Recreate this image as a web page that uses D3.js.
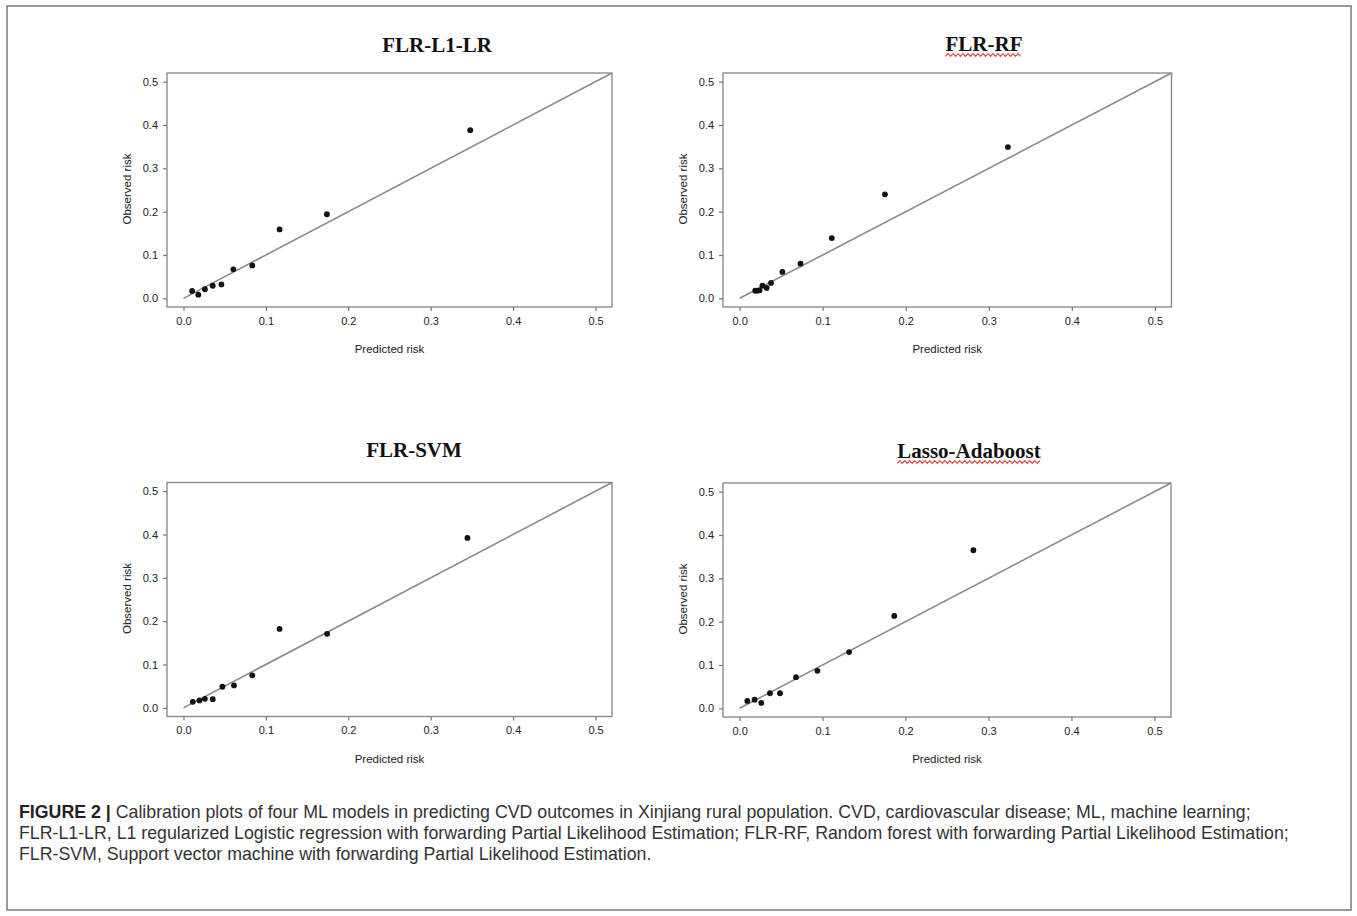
<!DOCTYPE html>
<html>
<head>
<meta charset="utf-8">
<script src="https://cdn.jsdelivr.net/npm/d3@7"></script>
<style>
  body { margin: 0; background: #fff; }
  svg { display: block; }
</style>
</head>
<body>
<div id="chart"></div>
<script>
// calibration plot data
var titles = ["FLR-L1-LR", "FLR-RF", "FLR-SVM", "Lasso-Adaboost"];

var predL1LR = [0.0105, 0.018, 0.026, 0.0355, 0.046, 0.0605, 0.0835, 0.1166, 0.174, 0.348];
var obsL1LR  = [0.017, 0.0085, 0.021, 0.029, 0.032, 0.067, 0.076, 0.159, 0.194, 0.388];

var predRF = [0.0188, 0.0215, 0.024, 0.0274, 0.0326, 0.0378, 0.0515, 0.0733, 0.111, 0.175, 0.323];
var obsRF  = [0.0175, 0.0178, 0.0185, 0.029, 0.024, 0.0355, 0.061, 0.080, 0.139, 0.240, 0.349];

var predSVM = [0.0113, 0.0194, 0.026, 0.0355, 0.0472, 0.0613, 0.0835, 0.1166, 0.1743, 0.3446];
var obsSVM  = [0.0139, 0.017, 0.0209, 0.020, 0.0487, 0.0518, 0.075, 0.182, 0.1708, 0.392];

var predAda = [0.0093, 0.0181, 0.0262, 0.0366, 0.0487, 0.068, 0.0938, 0.132, 0.1864, 0.2818];
var obsAda  = [0.017, 0.020, 0.0124, 0.0348, 0.0348, 0.0719, 0.0866, 0.1298, 0.2133, 0.3648];

var tickValues = [0, 0.1, 0.2, 0.3, 0.4, 0.5];
var axisDomain = [-0.02, 0.52];

var captionLines = [
  ["FIGURE 2 |", " Calibration plots of four ML models in predicting CVD outcomes in Xinjiang rural population. CVD, cardiovascular disease; ML, machine learning;"],
  ["", "FLR-L1-LR, L1 regularized Logistic regression with forwarding Partial Likelihood Estimation; FLR-RF, Random forest with forwarding Partial Likelihood Estimation;"],
  ["", "FLR-SVM, Support vector machine with forwarding Partial Likelihood Estimation."]
];

var series = [
  {pred: predL1LR, obs: obsL1LR},
  {pred: predRF, obs: obsRF},
  {pred: predSVM, obs: obsSVM},
  {pred: predAda, obs: obsAda}
];

// panel boxes in page pixels
var boxes = [
  {left: 167, right: 612, top: 73, bottom: 307, titleX: 437, titleY: 52, wavy: false},
  {left: 723, right: 1171.5, top: 73, bottom: 307, titleX: 984, titleY: 51, wavy: true},
  {left: 167, right: 612, top: 482.5, bottom: 716.5, titleX: 414, titleY: 457, wavy: false},
  {left: 723, right: 1171, top: 483, bottom: 717, titleX: 969, titleY: 458, wavy: true}
];

var svgWidth = 1357, svgHeight = 916;

var svg = d3.select("#chart").append("svg")
  .attr("width", svgWidth)
  .attr("height", svgHeight);

// outer frame
svg.append("rect")
  .attr("x", 7).attr("y", 6)
  .attr("width", 1344).attr("height", 904)
  .attr("fill", "none")
  .attr("stroke", "#7a7a7a")
  .attr("stroke-width", 1.5);

var fmt = d3.format(".1f");

boxes.forEach(function(b, i) {
  var x = d3.scaleLinear().domain(axisDomain).range([b.left, b.right]);
  var y = d3.scaleLinear().domain(axisDomain).range([b.bottom, b.top]);
  var g = svg.append("g");

  // plot box
  g.append("rect")
    .attr("x", b.left).attr("y", b.top)
    .attr("width", b.right - b.left).attr("height", b.bottom - b.top)
    .attr("fill", "none")
    .attr("stroke", "#858585")
    .attr("stroke-width", 1.3);

  var bottomAxis = d3.axisBottom(x).tickValues(tickValues).tickFormat(fmt).tickSize(4).tickPadding(6);
  var leftAxis = d3.axisLeft(y).tickValues(tickValues).tickFormat(fmt).tickSize(4).tickPadding(5);

  var xa = g.append("g").attr("transform", "translate(0," + b.bottom + ")").call(bottomAxis);
  var ya = g.append("g").attr("transform", "translate(" + b.left + ",0)").call(leftAxis);
  [xa, ya].forEach(function(a) {
    a.select(".domain").remove();
    a.selectAll("line").attr("stroke", "#777").attr("stroke-width", 1.2);
    a.selectAll("text")
      .attr("fill", "#222")
      .style("font-family", "Liberation Sans, Arial, sans-serif")
      .style("font-size", "11px");
  });

  // diagonal reference line
  g.append("line")
    .attr("x1", x(0)).attr("y1", y(0))
    .attr("x2", x(0.52)).attr("y2", y(0.52))
    .attr("stroke", "#8a8a8a")
    .attr("stroke-width", 1.6);

  var s = series[i];
  g.selectAll("circle.pt")
    .data(s.pred.map(function(p, k) { return {p: p, o: s.obs[k]}; }))
    .enter().append("circle")
    .attr("class", "pt")
    .attr("cx", function(d) { return x(d.p); })
    .attr("cy", function(d) { return y(d.o); })
    .attr("r", 2.9)
    .attr("fill", "#111");

  // axis titles
  g.append("text")
    .attr("x", (b.left + b.right) / 2)
    .attr("y", b.bottom + 46)
    .attr("text-anchor", "middle")
    .attr("fill", "#222")
    .style("font-family", "Liberation Sans, Arial, sans-serif")
    .style("font-size", "11.5px")
    .text("Predicted risk");

  g.append("text")
    .attr("transform", "translate(" + (b.left - 36) + "," + ((b.top + b.bottom) / 2 - 1) + ") rotate(-90)")
    .attr("text-anchor", "middle")
    .attr("fill", "#222")
    .style("font-family", "Liberation Sans, Arial, sans-serif")
    .style("font-size", "11.5px")
    .text("Observed risk");

  var t = g.append("text")
    .attr("x", b.titleX).attr("y", b.titleY)
    .attr("text-anchor", "middle")
    .attr("fill", "#111")
    .style("font-family", "Liberation Serif, Times New Roman, serif")
    .style("font-weight", "bold")
    .style("font-size", "21px")
    .text(titles[i]);

  // spell-check squiggle under some titles
  if (b.wavy) {
    var w = t.node().getComputedTextLength();
    var x0 = b.titleX - w / 2, yy = b.titleY + 4;
    var pts = [];
    for (var k = 0; k * 2.5 <= w; k++) {
      pts.push([x0 + k * 2.5, yy + (k % 2 ? -1.3 : 1.3)]);
    }
    g.append("path")
      .attr("d", d3.line()(pts))
      .attr("fill", "none")
      .attr("stroke", "#e04a4a")
      .attr("stroke-width", 1.2);
  }
});

// caption
var cap = svg.append("g");
var capBase = [818, 839, 860];
var capTexts = captionLines.map(function(line, i) {
  var t = cap.append("text")
    .attr("x", 19).attr("y", capBase[i])
    .attr("fill", "#333")
    .style("font-family", "Liberation Sans, Arial, sans-serif")
    .style("font-size", "15px");
  if (line[0]) {
    t.append("tspan").style("font-weight", "bold").attr("fill", "#222").text(line[0]);
  }
  t.append("tspan").text(line[1]);
  return t;
});
// fit second caption line to its width in the figure
var target = 1271;
var w2 = capTexts[1].node().getComputedTextLength();
var fs = 15 * target / w2;
capTexts.forEach(function(t) { t.style("font-size", fs + "px"); });
</script>
</body>
</html>
